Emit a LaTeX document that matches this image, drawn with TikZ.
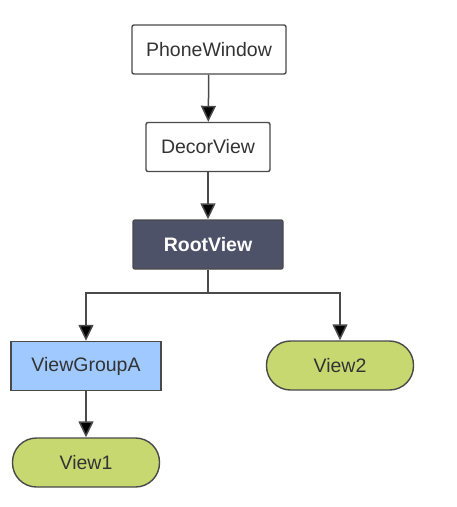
\documentclass[tikz,border=0pt]{standalone}
\usepackage{fontspec}
\setmainfont{Liberation Sans}
\usetikzlibrary{arrows.meta}

\definecolor{rootfill}{HTML}{4D5269}
\definecolor{groupfill}{HTML}{9FC9FF}
\definecolor{leaffill}{HTML}{C8D870}
\definecolor{edgegray}{HTML}{4A4A4A}

\tikzset{
  box/.style={draw=edgegray, line width=1.4pt, rounded corners=2pt,
    minimum height=49pt, inner sep=0pt,
    font=\fontsize{19.5}{23}\selectfont, text=black!80},
  plainbox/.style={box, fill=white},
  rootbox/.style={box, fill=rootfill, text=white, font=\fontsize{19.5}{23}\selectfont\bfseries},
  groupbox/.style={box, fill=groupfill, rounded corners=0pt},
  leafbox/.style={box, fill=leaffill, rounded corners=24pt},
  arr/.style={draw=edgegray, line width=1.5pt,
    -{Triangle[length=16pt,width=15pt,fill=black]}}
}

\begin{document}
\begin{tikzpicture}
  \useasboundingbox (0,0) rectangle (457pt,-507pt);
  % top chain
  \node[plainbox, minimum width=154pt] (pw) at (209pt,-49.5pt) {PhoneWindow};
  \node[plainbox, minimum width=124pt] (dv) at (208pt,-147pt) {DecorView};
  \node[rootbox, minimum width=150pt] (rv) at (208pt,-244.5pt) {RootView};
  % children
  \node[groupbox, minimum width=150pt] (vga) at (86pt,-366pt) {ViewGroupA};
  \node[leafbox, minimum width=147pt] (vtwo) at (340pt,-365.5pt) {View2};
  \node[leafbox, minimum width=147pt] (vone) at (86pt,-462.5pt) {View1};
  \coordinate (split) at (208pt,-293pt);
  % connectors
  \draw[arr] (pw) -- (dv);
  \draw[arr] (dv) -- (rv);
  \draw[arr] (rv.south) -- (split) -| (vga.north);
  \draw[arr] (split) -| (vtwo.north);
  \draw[arr] (vga) -- (vone);
\end{tikzpicture}
\end{document}
